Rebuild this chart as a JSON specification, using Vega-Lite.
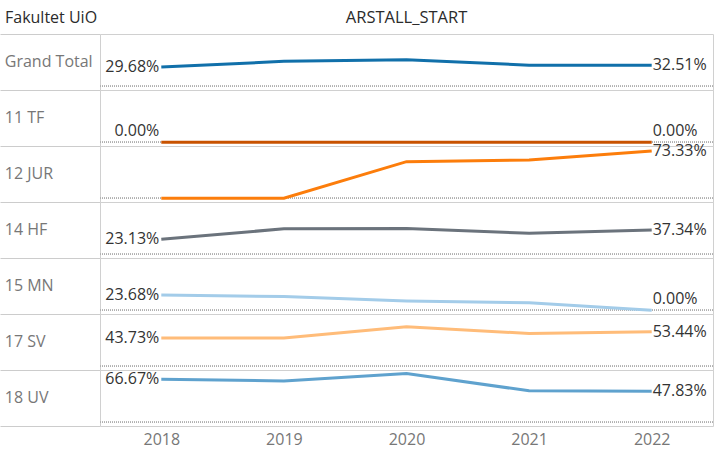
{
  "$schema": "https://vega.github.io/schema/vega-lite/v6.json",
  "padding": {"left": 0, "top": 9, "right": 2, "bottom": 2},
  "background": "white",
  "datasets": {"d": [
    {"fak": "Grand Total", "measure": "ARSTALL_START", "year": 2018, "v": 0.2968},
    {"fak": "Grand Total", "measure": "ARSTALL_START", "year": 2019, "v": 0.385},
    {"fak": "Grand Total", "measure": "ARSTALL_START", "year": 2020, "v": 0.41},
    {"fak": "Grand Total", "measure": "ARSTALL_START", "year": 2021, "v": 0.325},
    {"fak": "Grand Total", "measure": "ARSTALL_START", "year": 2022, "v": 0.3251},
    {"fak": "11 TF", "measure": "ARSTALL_START", "year": 2018, "v": 0},
    {"fak": "11 TF", "measure": "ARSTALL_START", "year": 2019, "v": 0},
    {"fak": "11 TF", "measure": "ARSTALL_START", "year": 2020, "v": 0},
    {"fak": "11 TF", "measure": "ARSTALL_START", "year": 2021, "v": 0},
    {"fak": "11 TF", "measure": "ARSTALL_START", "year": 2022, "v": 0},
    {"fak": "12 JUR", "measure": "ARSTALL_START", "year": 2018, "v": 0, "nolabel": true},
    {"fak": "12 JUR", "measure": "ARSTALL_START", "year": 2019, "v": 0},
    {"fak": "12 JUR", "measure": "ARSTALL_START", "year": 2020, "v": 0.567},
    {"fak": "12 JUR", "measure": "ARSTALL_START", "year": 2021, "v": 0.592},
    {"fak": "12 JUR", "measure": "ARSTALL_START", "year": 2022, "v": 0.7333},
    {"fak": "14 HF", "measure": "ARSTALL_START", "year": 2018, "v": 0.2313},
    {"fak": "14 HF", "measure": "ARSTALL_START", "year": 2019, "v": 0.393},
    {"fak": "14 HF", "measure": "ARSTALL_START", "year": 2020, "v": 0.398},
    {"fak": "14 HF", "measure": "ARSTALL_START", "year": 2021, "v": 0.324},
    {"fak": "14 HF", "measure": "ARSTALL_START", "year": 2022, "v": 0.3734},
    {"fak": "15 MN", "measure": "ARSTALL_START", "year": 2018, "v": 0.2368},
    {"fak": "15 MN", "measure": "ARSTALL_START", "year": 2019, "v": 0.21},
    {"fak": "15 MN", "measure": "ARSTALL_START", "year": 2020, "v": 0.142},
    {"fak": "15 MN", "measure": "ARSTALL_START", "year": 2021, "v": 0.116},
    {"fak": "15 MN", "measure": "ARSTALL_START", "year": 2022, "v": 0},
    {"fak": "17 SV", "measure": "ARSTALL_START", "year": 2018, "v": 0.4373},
    {"fak": "17 SV", "measure": "ARSTALL_START", "year": 2019, "v": 0.4373},
    {"fak": "17 SV", "measure": "ARSTALL_START", "year": 2020, "v": 0.612},
    {"fak": "17 SV", "measure": "ARSTALL_START", "year": 2021, "v": 0.508},
    {"fak": "17 SV", "measure": "ARSTALL_START", "year": 2022, "v": 0.5344},
    {"fak": "18 UV", "measure": "ARSTALL_START", "year": 2018, "v": 0.6667},
    {"fak": "18 UV", "measure": "ARSTALL_START", "year": 2019, "v": 0.641},
    {"fak": "18 UV", "measure": "ARSTALL_START", "year": 2020, "v": 0.754},
    {"fak": "18 UV", "measure": "ARSTALL_START", "year": 2021, "v": 0.487},
    {"fak": "18 UV", "measure": "ARSTALL_START", "year": 2022, "v": 0.4783}
  ]},
  "spacing": 0,
  "bounds": "flush",
  "hconcat": [
    {
      "data": {"name": "d"},
      "transform": [{"filter": "datum.year == 2018"}],
      "width": 100,
      "height": 392,
      "title": {"text": "Fakultet UiO", "anchor": "start", "fontSize": 16, "font": "Open Sans", "fontWeight": 500, "color": "#2b2b2b", "offset": 8, "dx": 5},
      "view": {"stroke": null},
      "mark": {"type": "text", "align": "left", "baseline": "middle", "fontSize": 16, "font": "Open Sans", "color": "#777777"},
      "encoding": {
        "y": {"field": "fak", "type": "nominal",
          "sort": ["Grand Total", "11 TF", "12 JUR", "14 HF", "15 MN", "17 SV", "18 UV"],
          "scale": {"paddingInner": 0, "paddingOuter": 0},
          "axis": {"title": null, "labels": false, "ticks": false, "domain": false, "grid": true, "tickBand": "extent", "gridColor": "#cccccc", "gridOpacity": 1}},
        "x": {"datum": 0, "type": "quantitative", "scale": {"domain": [-0.05, 1]}, "axis": null},
        "text": {"field": "fak"}
      }
    },
    {
      "data": {"name": "d"},
      "facet": {
        "row": {"field": "fak", "type": "nominal",
          "sort": ["Grand Total", "11 TF", "12 JUR", "14 HF", "15 MN", "17 SV", "18 UV"],
          "header": {"title": null, "labels": false}},
        "column": {"field": "measure", "type": "nominal",
          "header": {"title": null, "labelFontSize": 16.5, "labelColor": "#2b2b2b", "labelFont": "Open Sans", "labelPadding": 8}}
      },
      "spacing": 0,
      "bounds": "flush",
      "spec": {
        "width": 613,
        "height": 56,
        "encoding": {
          "x": {"field": "year", "type": "ordinal", "scale": {"type": "point", "padding": 0.5},
            "axis": {"title": null, "labelAngle": 0, "domain": false, "ticks": false, "grid": false, "labelColor": "#777777", "labelFontSize": 16, "labelFont": "Open Sans", "labelPadding": 5}},
          "y": {"field": "v", "type": "quantitative", "scale": {"domain": [-0.06, 0.81], "nice": false, "zero": false}, "axis": null}
        },
        "layer": [
          {"mark": {"type": "rule", "strokeDash": [1, 1], "color": "#b0b0b0", "strokeWidth": 1}, "encoding": {"y": {"datum": 0}, "x": null}},
          {"mark": {"type": "line", "strokeWidth": 3},
            "encoding": {"color": {"field": "fak", "type": "nominal", "legend": null,
              "scale": {"domain": ["Grand Total", "11 TF", "12 JUR", "14 HF", "15 MN", "17 SV", "18 UV"],
                        "range": ["#1170aa", "#c85200", "#fc7d0b", "#6b737c", "#a3cce9", "#ffbc79", "#5fa2ce"]}}}},
          {"transform": [{"filter": "datum.year == 2018 && !datum.nolabel && datum.v > 0"}],
            "mark": {"type": "text", "align": "right", "dx": -2, "baseline": "middle", "fontSize": 16, "font": "Open Sans", "color": "#333333"},
            "encoding": {"text": {"field": "v", "type": "quantitative", "format": ".2%"}}},
          {"transform": [{"filter": "datum.year == 2018 && !datum.nolabel && datum.v == 0"}],
            "mark": {"type": "text", "align": "right", "dx": -2, "dy": -3, "baseline": "bottom", "fontSize": 16, "font": "Open Sans", "color": "#333333"},
            "encoding": {"text": {"field": "v", "type": "quantitative", "format": ".2%"}}},
          {"transform": [{"filter": "datum.year == 2022 && datum.v > 0"}],
            "mark": {"type": "text", "align": "left", "dx": 1, "baseline": "middle", "fontSize": 16, "font": "Open Sans", "color": "#333333"},
            "encoding": {"text": {"field": "v", "type": "quantitative", "format": ".2%"}}},
          {"transform": [{"filter": "datum.year == 2022 && datum.v == 0"}],
            "mark": {"type": "text", "align": "left", "dx": 1, "dy": -3, "baseline": "bottom", "fontSize": 16, "font": "Open Sans", "color": "#333333"},
            "encoding": {"text": {"field": "v", "type": "quantitative", "format": ".2%"}}}
        ]
      }
    }
  ],
  "config": {
    "view": {"stroke": "#d0d0d0"}
  }
}
